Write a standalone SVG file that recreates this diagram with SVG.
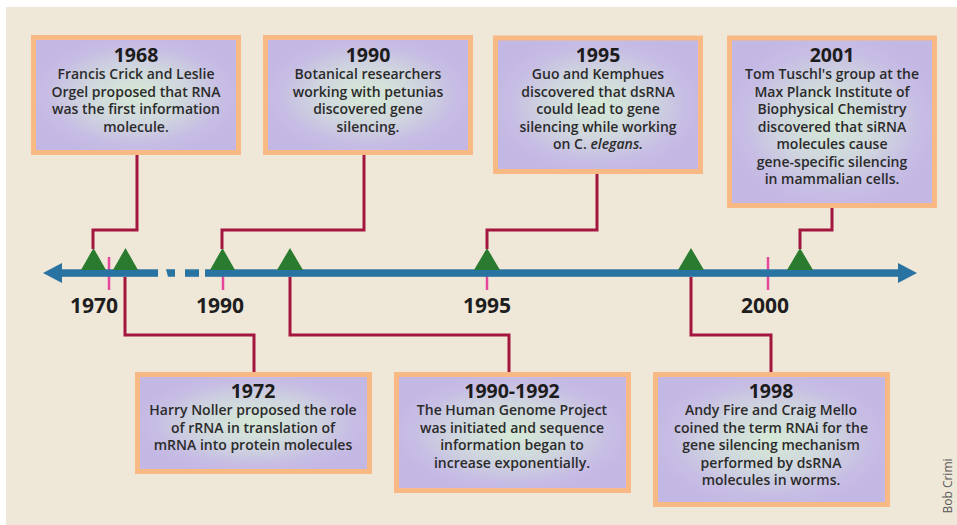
<svg xmlns="http://www.w3.org/2000/svg" width="957" height="525" viewBox="0 0 957 525">
<defs>
<radialGradient id="glow" cx="0.5" cy="0.5" r="0.55">
<stop offset="0" stop-color="#D6EAD6"/>
<stop offset="0.45" stop-color="#CFD6DE"/>
<stop offset="0.78" stop-color="#C7BDE4"/>
<stop offset="1" stop-color="#C3B7E4"/>
</radialGradient>
<style>
.box{fill:url(#glow);stroke:#F8B985;stroke-width:5}
.title{font-family:"Open Sans","Liberation Sans",sans-serif;font-weight:700;font-size:19.5px;fill:#1c1c1c;text-anchor:middle}
.body{font-family:"Open Sans","Liberation Sans",sans-serif;font-weight:600;font-size:14px;fill:#2b2b2b;text-anchor:middle}
.year{font-family:"Open Sans","Liberation Sans",sans-serif;font-weight:700;font-size:21px;fill:#1e1e1e;text-anchor:middle}
.conn{fill:none;stroke:#A3163F;stroke-width:3}
.tick{stroke:#E5479A;stroke-width:2.5}
.tri{fill:#2A7B2F}
.axis{fill:#2873A1}
</style>
</defs>
<rect x="0" y="0" width="957" height="525" fill="#ffffff"/>
<rect x="6" y="7" width="951" height="518" fill="#EFE7D7"/>

<g id="timeline">
<line class="tick" x1="109" y1="257" x2="109" y2="290"/>
<line class="tick" x1="223" y1="257" x2="223" y2="290"/>
<line class="tick" x1="487" y1="257" x2="487" y2="290"/>
<line class="tick" x1="768" y1="257" x2="768" y2="290"/>
<polygon class="axis" points="43,273 62,263 62,283"/>
<rect class="axis" x="60" y="269.3" width="98" height="7.5"/>
<polygon class="axis" points="166,269.3 175,269.3 175,276.8 168,276.8"/>
<rect class="axis" x="185" y="269.3" width="14" height="7.5"/>
<rect class="axis" x="205" y="269.3" width="695" height="7.5"/>
<polygon class="axis" points="917,273 898,263 898,283"/>
<polygon class="tri" points="81,270 93.5,248 106,270"/>
<polygon class="tri" points="113,270 125.5,248 138,270"/>
<polygon class="tri" points="210,270 222.5,248 235,270"/>
<polygon class="tri" points="277,270 290,248 303,270"/>
<polygon class="tri" points="474,270 487,248 500,270"/>
<polygon class="tri" points="678,270 691,248 704,270"/>
<polygon class="tri" points="787,270 800,248 813,270"/>
<text class="year" x="94" y="313">1970</text>
<text class="year" x="220" y="313">1990</text>
<text class="year" x="487" y="313">1995</text>
<text class="year" x="765" y="313">2000</text>
</g>

<g id="connectors">
<polyline class="conn" points="137,155 137,230 93,230 93,249"/>
<polyline class="conn" points="364,155 364,230 222,230 222,249"/>
<polyline class="conn" points="597,174 597,230 487,230 487,249"/>
<polyline class="conn" points="832,208 832,230 800,230 800,249"/>
<polyline class="conn" points="125,277 125,335 254,335 254,372"/>
<polyline class="conn" points="290,277 290,335 509,335 509,372"/>
<polyline class="conn" points="691,277 691,335 771,335 771,372"/>
</g>

<g id="n1968">
<rect class="box" x="33.5" y="37.5" width="205" height="115"/>
<text class="title" x="136" y="62">1968</text>
<text class="body" x="136" y="79">Francis Crick and Leslie</text>
<text class="body" x="136" y="97">Orgel proposed that RNA</text>
<text class="body" x="136" y="114">was the first information</text>
<text class="body" x="136" y="132">molecule.</text>
</g>

<g id="n1990">
<rect class="box" x="265.5" y="37.5" width="205" height="115"/>
<text class="title" x="368" y="62">1990</text>
<text class="body" x="368" y="79">Botanical researchers</text>
<text class="body" x="368" y="97">working with petunias</text>
<text class="body" x="368" y="114">discovered gene</text>
<text class="body" x="368" y="132">silencing.</text>
</g>

<g id="n1995">
<rect class="box" x="495.5" y="38" width="205" height="133.5"/>
<text class="title" x="598" y="62">1995</text>
<text class="body" x="598" y="79">Guo and Kemphues</text>
<text class="body" x="598" y="97">discovered that dsRNA</text>
<text class="body" x="598" y="114">could lead to gene</text>
<text class="body" x="598" y="132">silencing while working</text>
<text class="body" x="598" y="149">on C. <tspan font-style="italic">elegans.</tspan></text>
</g>

<g id="n2001">
<rect class="box" x="729.5" y="38" width="205" height="167.5"/>
<text class="title" x="832" y="62">2001</text>
<text class="body" x="832" y="79">Tom Tuschl's group at the</text>
<text class="body" x="832" y="97">Max Planck Institute of</text>
<text class="body" x="832" y="114">Biophysical Chemistry</text>
<text class="body" x="832" y="132">discovered that siRNA</text>
<text class="body" x="832" y="149">molecules cause</text>
<text class="body" x="832" y="167">gene-specific silencing</text>
<text class="body" x="832" y="184">in mammalian cells.</text>
</g>

<g id="n1972">
<rect class="box" x="137.5" y="374.5" width="232" height="97"/>
<text class="title" x="253" y="398">1972</text>
<text class="body" x="253" y="415">Harry Noller proposed the role</text>
<text class="body" x="253" y="433">of rRNA in translation of</text>
<text class="body" x="253" y="450">mRNA into protein molecules</text>
</g>

<g id="n1990-1992">
<rect class="box" x="396.5" y="374.5" width="232" height="116"/>
<text class="title" x="512" y="398">1990-1992</text>
<text class="body" x="512" y="415">The Human Genome Project</text>
<text class="body" x="512" y="433">was initiated and sequence</text>
<text class="body" x="512" y="450">information began to</text>
<text class="body" x="512" y="468">increase exponentially.</text>
</g>

<g id="n1998">
<rect class="box" x="655.5" y="374.5" width="232" height="130"/>
<text class="title" x="771" y="398">1998</text>
<text class="body" x="771" y="415">Andy Fire and Craig Mello</text>
<text class="body" x="771" y="433">coined the term RNAi for the</text>
<text class="body" x="771" y="450">gene silencing mechanism</text>
<text class="body" x="771" y="468">performed by dsRNA</text>
<text class="body" x="771" y="485">molecules in worms.</text>
</g>

<text transform="translate(952,486) rotate(-90)" font-family="'Open Sans','Liberation Sans',sans-serif" font-size="12" fill="#5a5a5a" text-anchor="middle">Bob Crimi</text>
</svg>
